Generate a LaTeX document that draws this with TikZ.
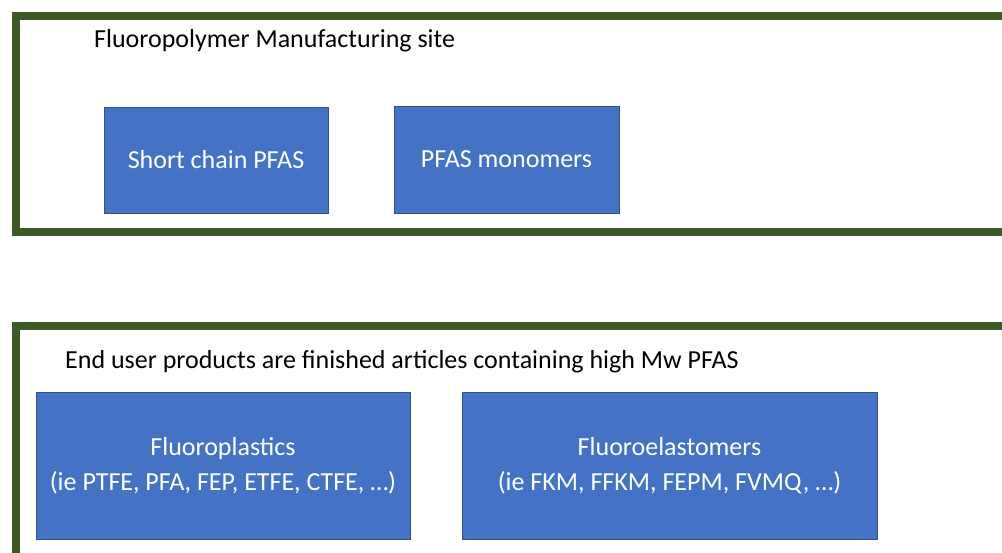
\documentclass[tikz,border=0pt]{standalone}
\usepackage{fontspec}
\setmainfont{Carlito}
\definecolor{framegreen}{HTML}{3B5A25}
\definecolor{boxblue}{HTML}{4472C4}
\definecolor{boxedge}{HTML}{2F528F}
\begin{document}
\begin{tikzpicture}[x=1pt,y=-1pt,
  frame/.style={draw=framegreen,line width=8pt,fill=white,rectangle,inner sep=0pt,outer sep=0pt},
  bluebox/.style={draw=boxedge,line width=1pt,fill=boxblue,rectangle,inner sep=0pt,outer sep=0pt,
    text=white,align=center,font=\fontsize{26}{35}\selectfont},
  label/.style={anchor=base west,inner sep=0pt,text=black,font=\fontsize{26}{35}\selectfont}]
\useasboundingbox (0,0) rectangle (1002,552);
\clip (0,0) rectangle (1002,552);
\fill[white] (0,0) rectangle (1002,552);
\node[frame,minimum width=999.5pt,minimum height=216.5pt] (site) at (515.25,123.75) {};
\node[frame,minimum width=999.5pt,minimum height=244pt] (users) at (515.25,448) {};
\node[label] (sitelabel) at (94,47) {Fluoropolymer Manufacturing site};
\node[label] (userlabel) at (65,368) {End user products are finished articles containing high Mw PFAS};
\node[bluebox,minimum width=224pt,minimum height=106pt] (short) at (216,160) {Short chain PFAS};
\node[bluebox,minimum width=225pt,minimum height=107pt] (mono) at (506.5,159.5) {PFAS monomers};
\node[bluebox,minimum width=374pt,minimum height=147pt] (plast) at (223,465.5) {Fluoroplastics\\(ie PTFE, PFA, FEP, ETFE, CTFE, …)};
\node[bluebox,minimum width=415pt,minimum height=147pt] (elast) at (669.5,465.5) {Fluoroelastomers\\(ie FKM, FFKM, FEPM, FVMQ, …)};
\end{tikzpicture}
\end{document}
